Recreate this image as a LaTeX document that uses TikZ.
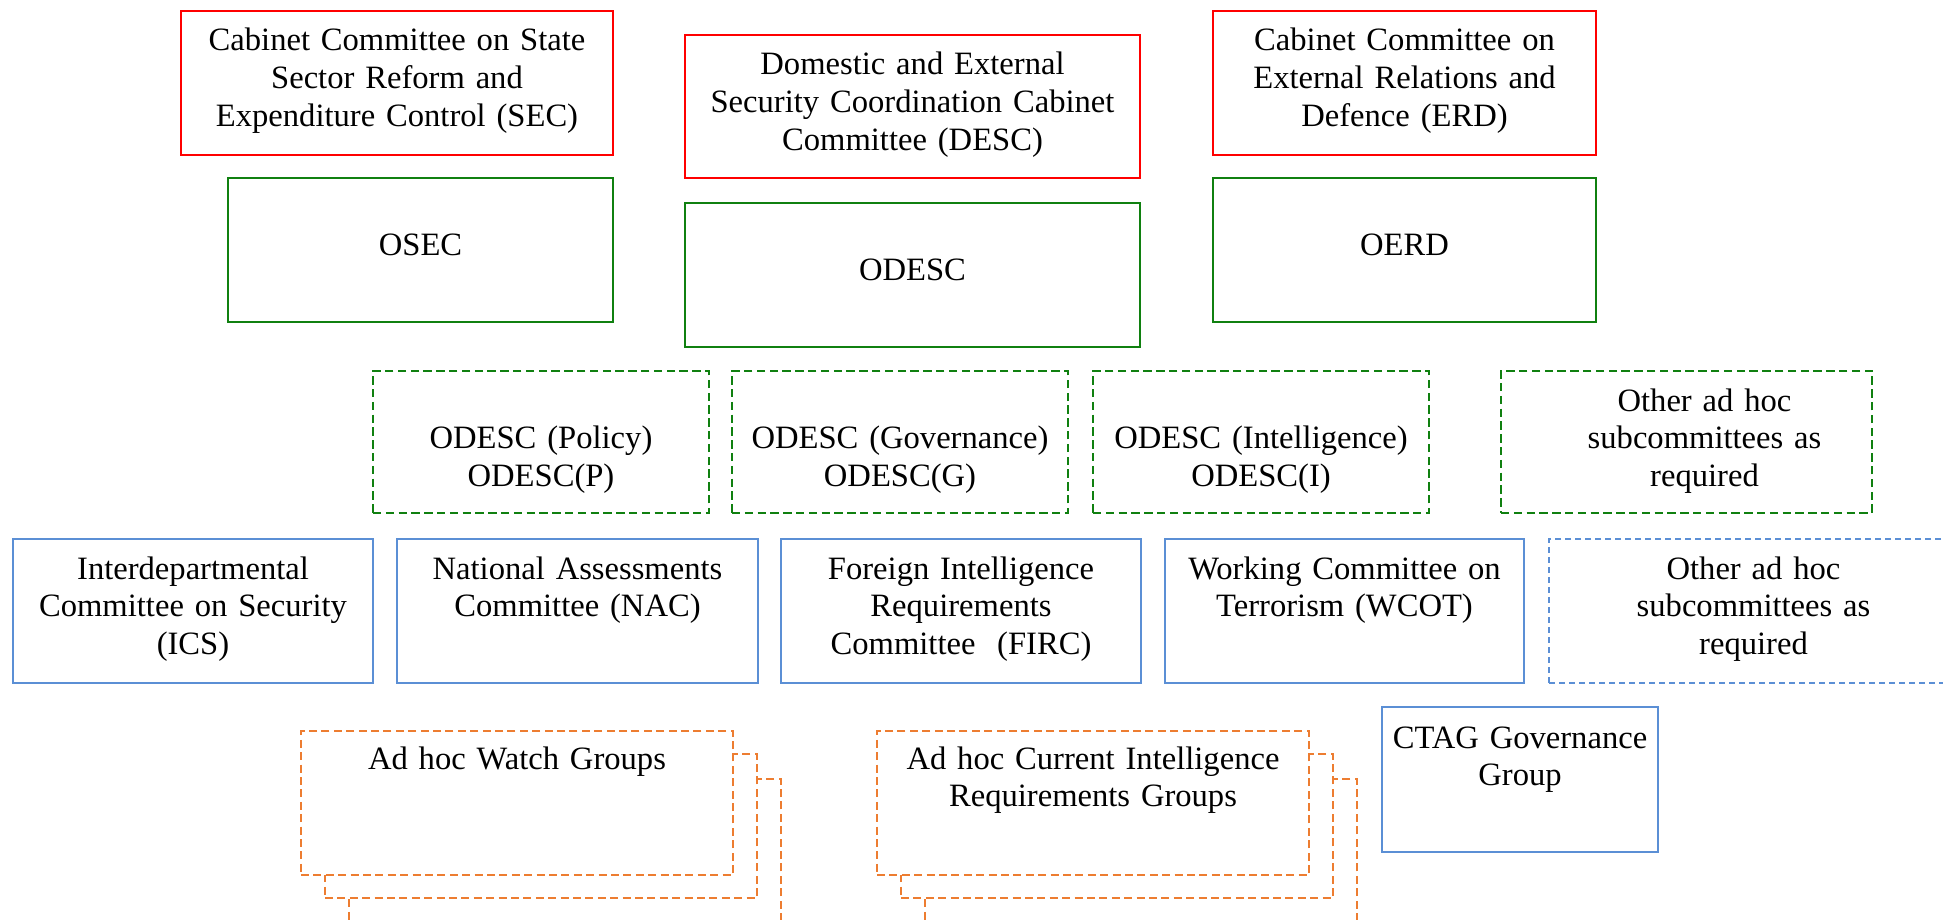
\documentclass[tikz,border=0pt]{standalone}
\usepackage{fontspec}
\setmainfont{Liberation Serif}
\definecolor{cabred}{RGB}{255,0,0}
\definecolor{offgreen}{RGB}{16,128,16}
\definecolor{comblue}{RGB}{91,143,213}
\definecolor{grporange}{RGB}{237,125,49}
\begin{document}
\begin{tikzpicture}[x=0.5pt, y=-0.5pt,
    box/.style={draw, line width=1pt, inner sep=0pt, fill=white},
    cabbox/.style={box, draw=cabred},
    offbox/.style={box, draw=offgreen},
    subbox/.style={box, draw=offgreen, dash pattern=on 4.2pt off 2.2pt},
    combox/.style={box, draw=comblue},
    adhocbox/.style={box, draw=comblue, dash pattern=on 3pt off 2pt},
    grpbox/.style={box, draw=grporange, dash pattern=on 4pt off 2.2pt,
        minimum width=216pt, minimum height=72pt},
    txt/.style={font=\fontsize{16.3}{18.85}\selectfont, align=center,
        anchor=base, inner sep=0pt, text width=#1},
    txt/.default=260pt]
    \useasboundingbox (0,0) rectangle (1943,920);

    % cabinet committees
    \node[cabbox, minimum width=216pt, minimum height=72pt] (sec) at (397,83) {};
    \node[txt] (sec-t) at ([yshift=-20.5pt]sec.north) {Cabinet Committee on State\\Sector Reform and\\Expenditure Control (SEC)};
    \node[cabbox, minimum width=227.5pt, minimum height=71.5pt] (desc) at (912.5,106.5) {};
    \node[txt] (desc-t) at ([yshift=-20.5pt]desc.north) {Domestic and External\\Security Coordination Cabinet\\Committee (DESC)};
    \node[cabbox, minimum width=191.5pt, minimum height=72pt] (erd) at (1404.5,83) {};
    \node[txt] (erd-t) at ([yshift=-20.5pt]erd.north) {Cabinet Committee on\\External Relations and\\Defence (ERD)};

    % officials committees
    \node[offbox, minimum width=192.5pt, minimum height=72pt] (osec) at (420.5,250) {};
    \node[txt] (osec-t) at ([yshift=-39.4pt]osec.north) {OSEC};
    \node[offbox, minimum width=227.5pt, minimum height=72pt] (odesc) at (912.5,275) {};
    \node[txt] (odesc-t) at ([yshift=-39.4pt]odesc.north) {ODESC};
    \node[offbox, minimum width=191.5pt, minimum height=72pt] (oerd) at (1404.5,250) {};
    \node[txt] (oerd-t) at ([yshift=-39.4pt]oerd.north) {OERD};

    % ODESC subcommittees
    \node[subbox, minimum width=168pt, minimum height=71pt] (pol) at (541,442) {};
    \node[txt] (pol-t) at ([yshift=-39.4pt]pol.north) {ODESC (Policy)\\ODESC(P)};
    \node[subbox, minimum width=168pt, minimum height=71pt] (gov) at (900,442) {};
    \node[txt] (gov-t) at ([yshift=-39.4pt]gov.north) {ODESC (Governance)\\ODESC(G)};
    \node[subbox, minimum width=168pt, minimum height=71pt] (int) at (1261,442) {};
    \node[txt] (int-t) at ([yshift=-39.4pt]int.north) {ODESC (Intelligence)\\ODESC(I)};
    \node[subbox, minimum width=185.5pt, minimum height=71pt] (othsub) at (1686.5,442) {};
    \node[txt] (othsub-t) at ([xshift=9pt, yshift=-20.5pt]othsub.north) {Other ad hoc\\subcommittees as\\required};

    % working committees
    \node[combox, minimum width=180pt, minimum height=72pt] (ics) at (193,611) {};
    \node[txt] (ics-t) at ([yshift=-20.5pt]ics.north) {Interdepartmental\\Committee on Security\\(ICS)};
    \node[combox, minimum width=180.5pt, minimum height=72pt] (nac) at (577.5,611) {};
    \node[txt] (nac-t) at ([yshift=-20.5pt]nac.north) {National Assessments\\Committee (NAC)};
    \node[combox, minimum width=180pt, minimum height=72pt] (firc) at (961,611) {};
    \node[txt] (firc-t) at ([yshift=-20.5pt]firc.north) {Foreign Intelligence\\Requirements\\Committee~~(FIRC)};
    \node[combox, minimum width=179.5pt, minimum height=72pt] (wcot) at (1344.5,611) {};
    \node[txt] (wcot-t) at ([yshift=-20.5pt]wcot.north) {Working Committee on\\Terrorism (WCOT)};
    \node[adhocbox, minimum width=204.5pt, minimum height=72pt] (othcom) at (1753.5,611) {};
    \node[txt] (othcom-t) at ([yshift=-20.5pt]othcom.north) {Other ad hoc\\subcommittees as\\required};

    % ad hoc groups (stacked)
    \node[grpbox] (watch3) at (565,851) {};
    \node[grpbox] (watch2) at (541,826) {};
    \node[grpbox] (watch) at (517,803) {};
    \node[txt] (watch-t) at ([yshift=-19.5pt]watch.north) {Ad hoc Watch Groups};
    \node[grpbox] (cir3) at (1141,851) {};
    \node[grpbox] (cir2) at (1117,826) {};
    \node[grpbox] (cir) at (1093,803) {};
    \node[txt] (cir-t) at ([yshift=-19.5pt]cir.north) {Ad hoc Current Intelligence\\Requirements Groups};

    \node[combox, minimum width=138pt, minimum height=72.5pt] (ctag) at (1520,779.5) {};
    \node[txt] (ctag-t) at ([yshift=-21pt]ctag.north) {CTAG Governance\\Group};
\end{tikzpicture}
\end{document}
